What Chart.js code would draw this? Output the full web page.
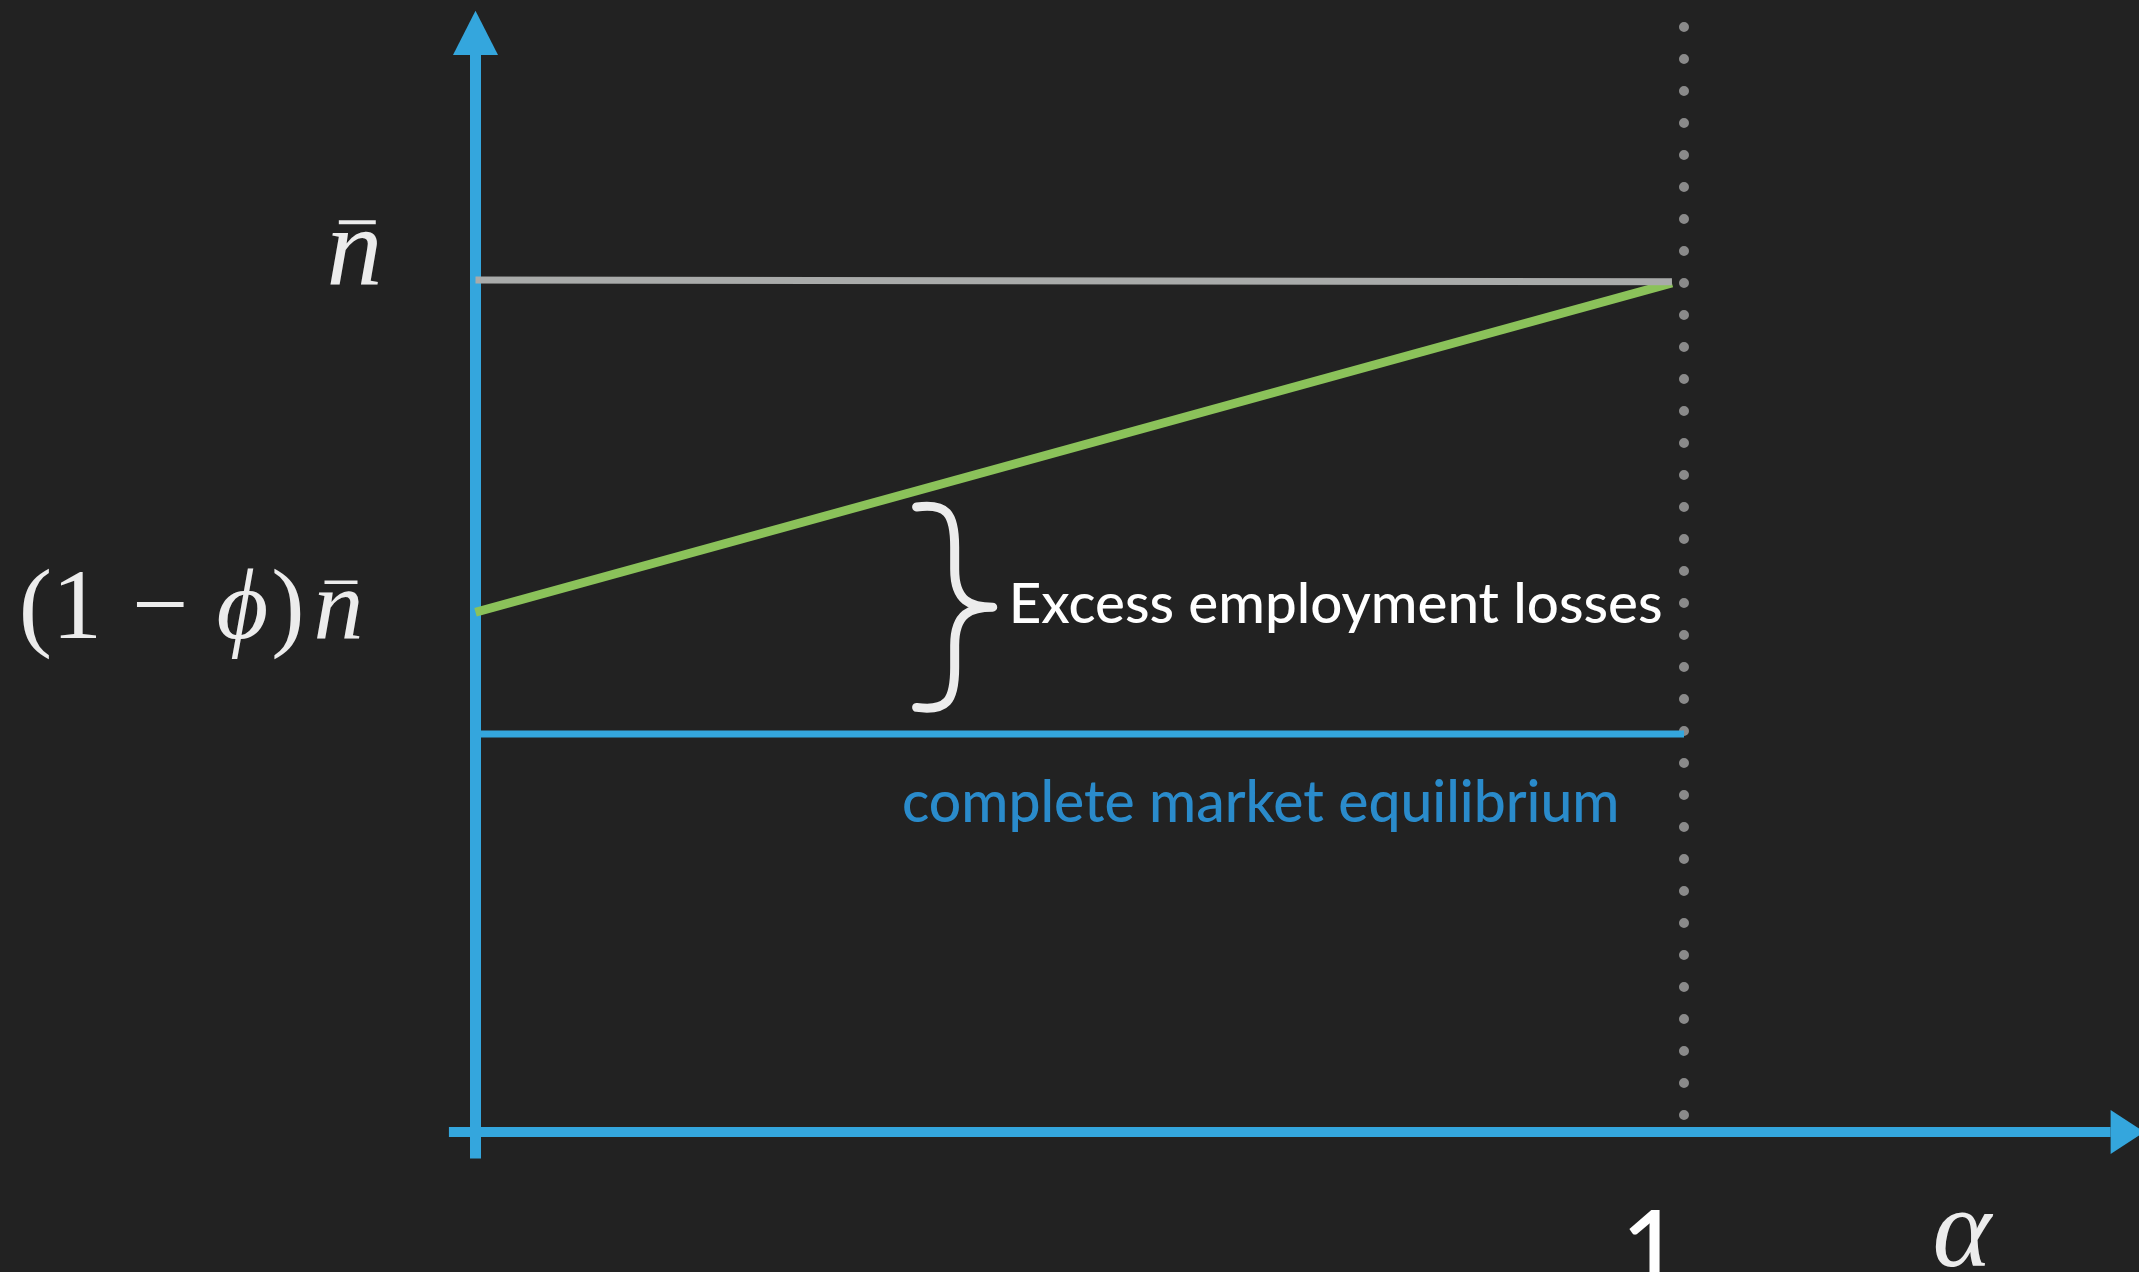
<!DOCTYPE html>
<html lang="en">
<head>
<meta charset="UTF-8" />
<title>Excess employment losses</title>
<style>
  html, body { margin: 0; padding: 0; background: #222222; overflow: hidden; }
  #chart { display: block; }
</style>
</head>
<body>
<canvas id="chart" width="2139" height="1272"></canvas>
<script src="https://cdn.jsdelivr.net/npm/chart.js@4.4.0/dist/chart.umd.min.js"></script>
<script>
// alpha on x, employment on y (n-bar = 1)
const alphaEnds = [0, 0.99];
const nBarLine = [1.0, 0.998];
const incompleteLine = [0.61, 0.9965];
const completeAlpha = [0, 1.0];
const completeLine = [0.467, 0.467];
const alphaOne = 1;
const dottedSpan = [1.297, 0.015];
const yAxisSpan = [-0.031, 1.264];
const xAxisSpan = [-0.022, 1.353];
const yArrowTip = 1.316;
const xArrowTip = 1.381;
const yTickValues = [1, 0.61];
const xTickValues = [1];
const xTickLabels = ["1"];
const bracketAlpha = [0.365, 0.428];
const bracketRange = [0.736, 0.496];

// pixel anchors: alpha 0 / 1 and employment 0 / n-bar
const W = 2139, H = 1272;
const PX = { x0: 475.5, x1: 1684, y0: 1132, y1: 280 };
const ux = PX.x1 - PX.x0, uy = PX.y0 - PX.y1;

const AXIS = "#34a6dd";
const BG = "#222222";

function seg(xv, yv) {
    return xv.map((x, i) => ({ x: x, y: yv[i] }));
}

const decor = {
    id: "decor",
    beforeDraw(chart) {
        const ctx = chart.ctx;
        ctx.save();
        ctx.fillStyle = BG;
        ctx.fillRect(0, 0, chart.width, chart.height);
        ctx.restore();
    },
    afterDatasetsDraw(chart) {
        const ctx = chart.ctx;
        const xs = chart.scales.x, ys = chart.scales.y;
        const px = v => xs.getPixelForValue(v);
        const py = v => ys.getPixelForValue(v);
        ctx.save();

        // arrow heads
        ctx.fillStyle = AXIS;
        let ax = px(0), tip = py(yArrowTip), base = py(yAxisSpan[1]);
        ctx.beginPath();
        ctx.moveTo(ax, tip);
        ctx.lineTo(ax - 22.5, base);
        ctx.lineTo(ax + 22.5, base);
        ctx.closePath();
        ctx.fill();
        let ay = py(0), tipx = px(xArrowTip), basex = px(xAxisSpan[1]);
        ctx.beginPath();
        ctx.moveTo(tipx, ay);
        ctx.lineTo(basex, ay - 22);
        ctx.lineTo(basex, ay + 22);
        ctx.closePath();
        ctx.fill();

        // curly bracket
        const x0 = px(bracketAlpha[0]), x1 = px(bracketAlpha[1]);
        const y0 = py(bracketRange[0]), y1 = py(bracketRange[1]);
        const xc = (x0 + x1) / 2, ym = (y0 + y1) / 2;
        ctx.strokeStyle = "#ececec";
        ctx.lineWidth = 9;
        ctx.lineCap = "round";
        ctx.lineJoin = "round";
        ctx.beginPath();
        ctx.moveTo(x0, y0 + 2);
        ctx.bezierCurveTo(x0 + 30, y0 - 2, xc, y0 + 8, xc, y0 + 42);
        ctx.lineTo(xc, ym - 38);
        ctx.bezierCurveTo(xc, ym - 6, xc + 16, ym, x1, ym);
        ctx.bezierCurveTo(xc + 16, ym, xc, ym + 6, xc, ym + 38);
        ctx.lineTo(xc, y1 - 42);
        ctx.bezierCurveTo(xc, y1 - 8, x0 + 30, y1 + 2, x0, y1 - 2);
        ctx.stroke();

        // annotations
        ctx.textBaseline = "alphabetic";
        ctx.textAlign = "left";
        ctx.fillStyle = "#ffffff";
        ctx.font = "500 56.5px Lato, 'Open Sans', sans-serif";
        ctx.fillText("Excess employment losses", x1 + 16, ym + 16);
        ctx.fillStyle = "#2a8bcb";
        ctx.font = "500 57px Lato, 'Open Sans', sans-serif";
        ctx.fillText("complete market equilibrium", px(0.353), py(completeLine[0]) + 88);

        // y tick labels (math)
        const serif = "'Liberation Serif', 'DejaVu Serif', serif";
        ctx.fillStyle = "#ececec";
        ctx.strokeStyle = "#ececec";
        ctx.lineCap = "butt";
        function nbar(xRight, baseline, size) {
            ctx.font = "italic " + size + "px " + serif;
            const w = ctx.measureText("n").width;
            ctx.textAlign = "right";
            ctx.fillText("n", xRight, baseline);
            ctx.lineWidth = size * 0.035;
            ctx.beginPath();
            ctx.moveTo(xRight - w * 0.78, baseline - size * 0.56);
            ctx.lineTo(xRight - w * 0.12, baseline - size * 0.56);
            ctx.stroke();
            return xRight - w;
        }
        nbar(px(0) - 93, py(yTickValues[0]) + 5, 112);

        const fs = 100, bl = py(yTickValues[1]) + 26;
        let right = nbar(px(0) - 112, bl, fs);
        ctx.textAlign = "right";
        ctx.font = fs + "px " + serif;
        right -= 9;
        ctx.fillText(")", right, bl);
        right -= ctx.measureText(")").width + 3;
        ctx.font = "italic " + fs + "px " + serif;
        ctx.fillText("\u03D5", right, bl);
        right -= ctx.measureText("\u03D5").width + 28;
        ctx.font = fs + "px " + serif;
        ctx.fillText("\u2212", right, bl);
        right -= ctx.measureText("\u2212").width + 30;
        ctx.fillText("(1", right, bl);

        // x tick label and axis name
        ctx.fillStyle = "#ffffff";
        ctx.textAlign = "center";
        ctx.font = "500 102px Lato, 'Open Sans', sans-serif";
        xTickValues.forEach((v, i) => ctx.fillText(xTickLabels[i], px(v) - 33, 1284));
        ctx.fillStyle = "#ececec";
        ctx.font = "italic 112px " + serif;
        ctx.fillText("\u03B1", px(1.23), 1266);

        ctx.restore();
    }
};

new Chart(document.getElementById("chart"), {
    type: "scatter",
    data: {
        datasets: [
            {
                label: "n bar",
                data: seg(alphaEnds, nBarLine),
                borderColor: "#a9abaa",
                borderWidth: 7,
            },
            {
                label: "incomplete markets",
                data: seg(alphaEnds, incompleteLine),
                borderColor: "#8bc25a",
                borderWidth: 9,
            },
            {
                label: "complete market equilibrium",
                data: seg(completeAlpha, completeLine),
                borderColor: AXIS,
                borderWidth: 7,
            },
            {
                label: "alpha = 1",
                data: seg([alphaOne, alphaOne], dottedSpan),
                borderColor: "#8a8a8a",
                borderWidth: 10,
                borderDash: [0, 32],
                borderCapStyle: "round",
            },
            {
                label: "y axis",
                data: seg([0, 0], yAxisSpan),
                borderColor: AXIS,
                borderWidth: 11,
            },
            {
                label: "x axis",
                data: seg(xAxisSpan, [0, 0]),
                borderColor: AXIS,
                borderWidth: 10,
            },
        ],
    },
    options: {
        responsive: false,
        animation: false,
        events: [],
        layout: { padding: 0 },
        elements: {
            point: { radius: 0, hoverRadius: 0 },
            line: { tension: 0 },
        },
        datasets: { scatter: { showLine: true, clip: false } },
        plugins: { legend: { display: false }, tooltip: { enabled: false } },
        scales: {
            x: {
                type: "linear",
                display: false,
                min: -PX.x0 / ux,
                max: (W - PX.x0) / ux,
            },
            y: {
                type: "linear",
                display: false,
                min: -(H - PX.y0) / uy,
                max: PX.y0 / uy,
            },
        },
    },
    plugins: [decor],
});
</script>
</body>
</html>
